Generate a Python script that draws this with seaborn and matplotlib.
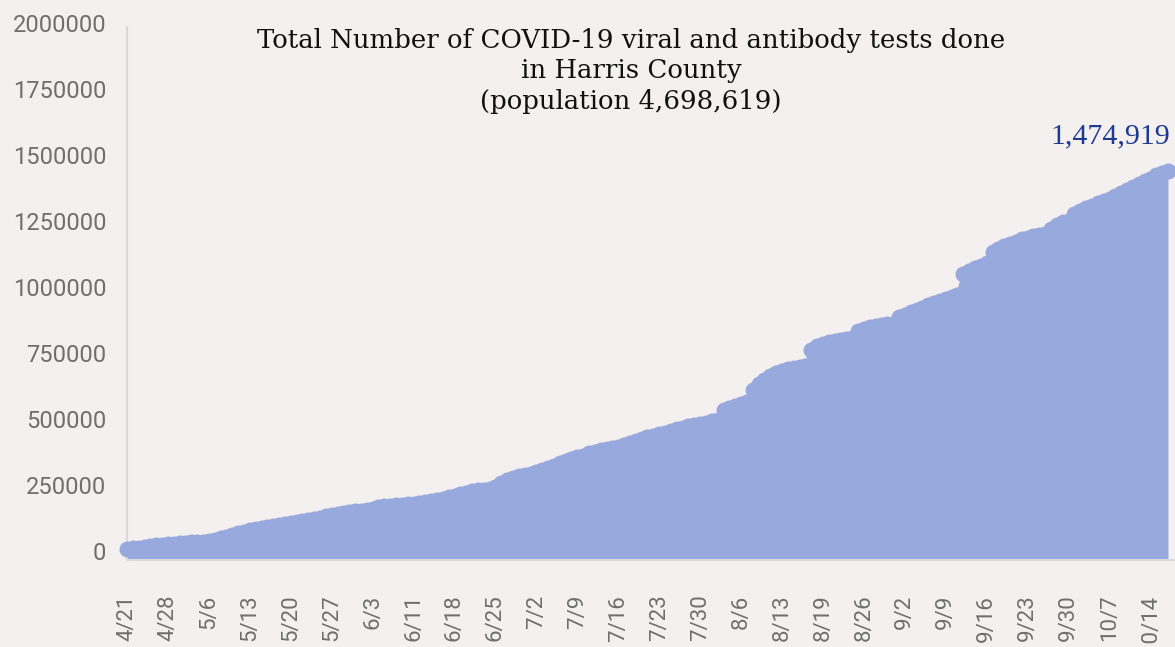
import numpy as np
import pandas as pd
import matplotlib
matplotlib.use("Agg")
import matplotlib.pyplot as plt
import matplotlib.transforms as mtransforms
import seaborn as sns

# cumulative tests (thousands), one value per reported day, 4/21 .. 10/17
tests_k = [
    40, 44, 47, 50, 53, 56, 58, 60, 62, 64,
    66, 67, 68, 70, 73, 77, 82, 88, 95, 102,
    108, 113, 118, 122, 125, 129, 133, 137, 141, 145,
    149, 153, 157, 161, 165, 169, 173, 177, 181, 184,
    187, 191, 195, 199, 203, 206, 208, 210, 211, 213,
    216, 219, 222, 226, 231, 237, 243, 249, 255, 260,
    264, 267, 270, 276, 290, 302, 310, 317, 322, 326,
    333, 341, 349, 358, 366, 375, 382, 389, 396, 404,
    411, 418, 422, 425, 428, 434, 443, 452, 459, 465,
    471, 477, 483, 489, 495, 500, 506, 512, 516, 521,
    526, 532, 569, 576, 583, 592, 597, 645, 668, 684,
    698, 708, 716, 722, 728, 732, 737, 797, 812, 820,
    826, 830, 833, 836, 840, 869, 877, 883, 887, 890,
    893, 896, 920, 930, 938, 946, 955, 966, 975, 983,
    990, 997, 1005, 1083, 1095, 1106, 1115, 1125, 1168, 1180,
    1190, 1198, 1206, 1215, 1222, 1228, 1232, 1236, 1254, 1268,
    1280, 1285, 1311, 1322, 1333, 1343, 1352, 1362, 1370, 1380,
    1392, 1404, 1415, 1426, 1436, 1444, 1458, 1466, 1474.919,
]
tests = np.array(tests_k) * 1000

# every 7th reported day is labelled
week_labels = ["4/21", "4/28", "5/6", "5/13", "5/20", "5/27", "6/3", "6/11",
               "6/18", "6/25", "7/2", "7/9", "7/16", "7/23", "7/30", "8/6",
               "8/13", "8/19", "8/26", "9/2", "9/9", "9/16", "9/23", "9/30",
               "10/7", "10/14"]

title = ("Total Number of COVID-19 viral and antibody tests done\n"
         "in Harris County\n(population 4,698,619)")
last_label = "1,474,919"

bg = "#f3f0ef"
fill = "#98a9de"

df = pd.DataFrame({"day": np.arange(len(tests)), "tests": tests})

sns.set_style("white")
plt.rcParams["font.family"] = ["Roboto", "DejaVu Sans"]

fig = plt.figure(figsize=(11.75, 6.47), dpi=100, facecolor=bg)
ax = fig.add_axes([127 / 1175, 1 - 560 / 647, 1 - 127 / 1175, 533 / 647])
ax.set_facecolor(bg)

ax.fill_between(df["day"], df["tests"], color=fill, linewidth=0, zorder=2)
sns.lineplot(data=df, x="day", y="tests", ax=ax, color=fill, linewidth=2,
             marker="o", markersize=11.5, markeredgewidth=0, zorder=3)
for ln in ax.lines:
    ln.set_clip_on(False)

ax.set_xlim(0, 179.2)
ax.set_ylim(0, 2020000)
ax.set_xlabel("")
ax.set_ylabel("")

yt = np.arange(0, 2000001, 250000)
ax.set_yticks(yt)
ax.set_yticklabels([str(v) for v in yt])
ax.tick_params(axis="y", length=7, width=1.2, color="#d8d8d8", pad=8,
               labelsize=17, labelcolor="#6f6f6f")
shift = mtransforms.ScaledTranslation(0, 9 / 100, fig.dpi_scale_trans)
for lab in ax.get_yticklabels():
    lab.set_transform(lab.get_transform() + shift)

ax.set_xticks(df["day"])
xl = [""] * len(df)
for k, s in enumerate(week_labels):
    xl[k * 7] = s
ax.set_xticklabels(xl, rotation=90, va="top", ha="center")
ax.tick_params(axis="x", length=7, width=1.4, color="#c4c4c4", pad=18,
               labelsize=16, labelcolor="#6f6f6f")

for side in ["top", "right"]:
    ax.spines[side].set_visible(False)
ax.spines["left"].set_color("#dadada")
ax.spines["left"].set_linewidth(1.5)
ax.spines["bottom"].set_color("#dadada")
ax.spines["bottom"].set_linewidth(1.5)

fig.text(631 / 1175, 1 - 28 / 647, title, ha="center", va="top",
         fontsize=18.7, family="DejaVu Serif", color="#111111", linespacing=1.27)

ax.annotate(last_label, xy=(df["day"].iloc[-1], tests[-1]), xytext=(2, 27),
            textcoords="offset pixels", ha="right", va="baseline",
            fontsize=21.5, family="Liberation Serif", color="#1f3a93",
            annotation_clip=False)

fig.savefig("out.png", dpi=100, facecolor=bg)
